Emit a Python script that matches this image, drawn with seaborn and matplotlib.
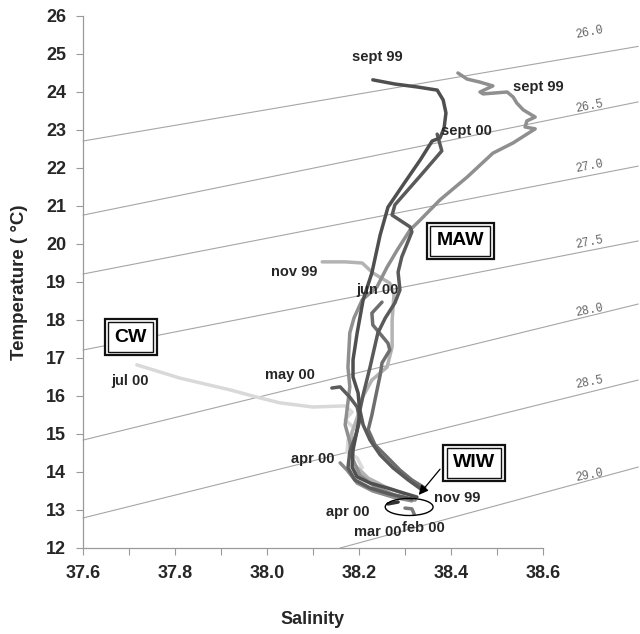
import numpy as np
import pandas as pd
import matplotlib
matplotlib.use("Agg")
import matplotlib.pyplot as plt
import seaborn as sns
from matplotlib.patches import Ellipse

sns.set_theme(style="white")
plt.rcParams["font.family"] = ["Liberation Sans", "DejaVu Sans"]

# ---------------- data ----------------
# isopycnals (sigma-t): straight reference lines, start/end points
sigma_levels = ["26.0", "26.5", "27.0", "27.5", "28.0", "28.5", "29.0"]
sig_s0 = [37.60, 37.60, 37.60, 37.60, 37.60, 37.60, 38.159]
sig_t0 = [22.71, 20.76, 19.21, 17.21, 14.84, 12.79, 12.00]
sig_s1 = [38.807, 38.807, 38.807, 38.807, 38.807, 38.807, 38.807]
sig_t1 = [25.20, 23.74, 22.05, 20.08, 18.42, 16.42, 14.13]
sig_lab_s = [38.70, 38.70, 38.70, 38.70, 38.70, 38.70, 38.70]
sig_lab_t = [25.58, 23.61, 22.03, 20.03, 18.26, 16.37, 13.92]

# T-S profiles
sep99a_s = [38.230, 38.278, 38.328, 38.370, 38.383, 38.389, 38.385, 38.376, 38.359, 38.333,
            38.300, 38.263, 38.246, 38.228, 38.209, 38.196, 38.187, 38.187, 38.198, 38.202,
            38.196, 38.187, 38.185, 38.196, 38.224, 38.261, 38.296, 38.326]
sep99a_t = [24.32, 24.21, 24.13, 24.05, 23.79, 23.45, 23.05, 22.79, 22.71, 22.21,
            21.63, 20.97, 20.24, 19.24, 18.53, 17.66, 16.95, 16.50, 16.08, 15.55,
            15.11, 14.58, 14.13, 13.87, 13.71, 13.58, 13.45, 13.34]

sep00_s = [38.370, 38.380, 38.333, 38.278, 38.272, 38.311, 38.315, 38.293, 38.285, 38.289,
           38.278, 38.257, 38.241, 38.224, 38.209, 38.202, 38.209, 38.224, 38.246, 38.274,
           38.307, 38.337]
sep00_t = [22.89, 22.45, 21.79, 21.03, 20.76, 20.45, 20.32, 19.66, 19.26, 18.79,
           18.45, 18.05, 17.66, 16.76, 16.03, 15.63, 15.24, 14.84, 14.45, 14.11,
           13.79, 13.53]

sep99b_s = [38.415, 38.435, 38.463, 38.491, 38.463, 38.470, 38.522, 38.535, 38.543, 38.557,
            38.583, 38.565, 38.561, 38.583, 38.535, 38.491, 38.435, 38.376, 38.333, 38.311,
            38.283, 38.261, 38.239, 38.207, 38.189, 38.180, 38.176, 38.180, 38.174, 38.170,
            38.180, 38.185, 38.202, 38.235, 38.278, 38.322]
sep99b_t = [24.50, 24.34, 24.26, 24.16, 24.00, 23.95, 24.00, 23.87, 23.71, 23.53,
            23.34, 23.24, 23.08, 23.03, 22.66, 22.39, 21.76, 21.16, 20.63, 20.37,
            19.84, 19.39, 18.87, 18.53, 18.05, 17.66, 16.76, 16.24, 15.63, 15.24,
            14.79, 14.37, 13.92, 13.61, 13.39, 13.26]

nov99_s = [38.120, 38.170, 38.207, 38.230, 38.267, 38.276, 38.272, 38.272, 38.261, 38.228,
           38.207, 38.198, 38.185, 38.180, 38.191, 38.220, 38.257, 38.300]
nov99_t = [19.53, 19.53, 19.50, 19.24, 18.97, 18.66, 18.00, 17.29, 16.76, 16.42,
           15.95, 15.50, 15.05, 14.58, 14.18, 13.84, 13.61, 13.42]

jul00_s = [37.717, 37.811, 37.920, 37.978, 38.028, 38.100, 38.170, 38.185, 38.170, 38.189,
           38.176, 38.174, 38.196, 38.207]
jul00_t = [16.82, 16.47, 16.16, 15.97, 15.82, 15.71, 15.74, 15.58, 15.37, 15.16,
           14.84, 14.53, 14.37, 14.11]

may00_s = [38.141, 38.159, 38.180, 38.196, 38.202, 38.193, 38.180, 38.176, 38.191, 38.224,
           38.267, 38.315]
may00_t = [16.21, 16.24, 15.97, 15.71, 15.37, 14.97, 14.53, 14.11, 13.79, 13.58,
           13.42, 13.29]

jun00_s = [38.250, 38.228, 38.230, 38.263, 38.267, 38.250, 38.246, 38.237, 38.228, 38.220,
           38.235, 38.263, 38.289, 38.315, 38.343]
jun00_t = [18.47, 18.18, 17.87, 17.39, 17.21, 16.87, 16.55, 16.03, 15.50, 15.11,
           14.71, 14.37, 14.05, 13.79, 13.58]

apr00_s = [38.159, 38.174, 38.196, 38.230, 38.274, 38.315]
apr00_t = [14.24, 14.05, 13.71, 13.50, 13.34, 13.24]

apr00b_s = [38.263, 38.285]
apr00b_t = [13.16, 13.21]

feb00_s = [38.300, 38.315, 38.320]
feb00_t = [13.05, 13.03, 12.89]

profile_names = ["jul 00", "nov 99", "sept 99 b", "apr 00", "jun 00", "may 00",
                 "sept 00", "sept 99 a", "feb 00", "apr 00 b"]
profile_s = [jul00_s, nov99_s, sep99b_s, apr00_s, jun00_s, may00_s, sep00_s, sep99a_s,
             feb00_s, apr00b_s]
profile_t = [jul00_t, nov99_t, sep99b_t, apr00_t, jun00_t, may00_t, sep00_t, sep99a_t,
             feb00_t, apr00b_t]
profile_colors = ["#d9d9d9", "#b3b3b3", "#8f8f8f", "#8a8a8a", "#6e6e6e", "#5c5c5c",
                  "#5a5a5a", "#4f4f4f", "#7a7a7a", "#333333"]

# month labels
month_text = ["sept 99", "sept 99", "sept 00", "nov 99", "jun 00", "may 00", "jul 00",
              "apr 00", "nov 99", "apr 00", "mar 00", "feb 00"]
month_s = [38.239, 38.589, 38.433, 38.059, 38.241, 38.050, 37.702, 38.100, 38.413, 38.176,
           38.241, 38.341]
month_t = [24.92, 24.13, 22.97, 19.26, 18.79, 16.55, 16.39, 14.34, 13.32, 12.95, 12.42, 12.53]

# water-mass boxes
mass_text = ["MAW", "CW", "WIW"]
mass_s = [38.420, 37.704, 38.450]
mass_t = [20.08, 17.55, 14.24]

# ---------------- figure ----------------
fig = plt.figure(figsize=(6.4, 6.34), dpi=100)
ax = fig.add_axes([83 / 640, 1 - 548 / 634, 460 / 640, 532 / 634])

# isopycnals
for lev, s0, t0, s1, t1, ls, lt in zip(sigma_levels, sig_s0, sig_t0, sig_s1, sig_t1,
                                         sig_lab_s, sig_lab_t):
    ax.plot([s0, s1], [t0, t1], color="#a6a6a6", lw=0.8, clip_on=False, zorder=1)
    ax.text(ls, lt, lev, fontsize=8.5, family=["Liberation Mono", "DejaVu Sans Mono"],
            color="#666666", rotation=11, ha="center", va="center", clip_on=False)

# profiles
frames = []
for name, s, t in zip(profile_names, profile_s, profile_t):
    frames.append(pd.DataFrame({"S": s, "T": t, "profile": name}))
df = pd.concat(frames, ignore_index=True)
sns.lineplot(data=df, x="S", y="T", hue="profile", hue_order=profile_names,
             palette=dict(zip(profile_names, profile_colors)), sort=False,
             estimator=None, linewidth=2.5, legend=False, ax=ax, zorder=3)

# month labels
for txt, s, t in zip(month_text, month_s, month_t):
    ax.text(s, t, txt, fontsize=10.5, fontweight="bold", ha="center", va="center",
            zorder=7, clip_on=False)

# boxes with double border
for txt, s, t in zip(mass_text, mass_s, mass_t):
    ax.text(s, t, txt, fontsize=14, fontweight="bold", color="none", ha="center",
            va="center", zorder=8,
            bbox=dict(boxstyle="square,pad=0.5", fc="white", ec="#111111", lw=1.6))
    ax.text(s, t, txt, fontsize=14, fontweight="bold", color="black", ha="center",
            va="center", zorder=9,
            bbox=dict(boxstyle="square,pad=0.32", fc="white", ec="#111111", lw=1.0))

# WIW arrow and ellipse
ax.annotate("", xy=(38.326, 13.34), xytext=(38.380, 14.13),
            arrowprops=dict(arrowstyle="-|>", color="black", lw=0.9, mutation_scale=14),
            zorder=7)
ax.add_patch(Ellipse((38.309, 13.08), 0.104, 0.45, fill=False, ec="black", lw=1.0,
                     zorder=6))

# axes
ax.set_xlim(37.6, 38.6)
ax.set_ylim(12, 26)
xt = np.round(np.arange(37.6, 38.601, 0.1), 1)
ax.set_xticks(xt)
ax.set_xticklabels([f"{v:.1f}" if i % 2 == 0 else "" for i, v in enumerate(xt)])
ax.set_yticks(np.arange(12, 27, 1))
ax.tick_params(axis="both", which="both", direction="out", length=5, width=0.8,
               color="#9a9a9a", labelsize=13, pad=7, bottom=True, left=True)
for lab in ax.get_xticklabels() + ax.get_yticklabels():
    lab.set_fontweight("bold")
for side in ["top", "right"]:
    ax.spines[side].set_visible(False)
for side in ["left", "bottom"]:
    ax.spines[side].set_color("#9a9a9a")
    ax.spines[side].set_linewidth(0.9)

ax.set_xlabel("Salinity", fontsize=13, fontweight="bold")
ax.set_ylabel("Temperature ( °C)", fontsize=13.5, fontweight="bold")
ax.xaxis.label.set_va("center")
ax.yaxis.label.set_va("center")
ax.xaxis.set_label_coords(0.5, -0.135)
ax.yaxis.set_label_coords(-0.137, 0.5)

fig.savefig("out.png", dpi=100)
